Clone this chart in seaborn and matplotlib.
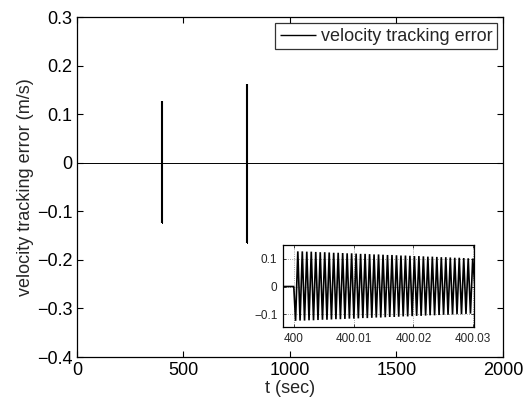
import numpy as np
import pandas as pd
import matplotlib
matplotlib.use("Agg")
import matplotlib.pyplot as plt
import seaborn as sns

# ---- data ----
# oscillation that starts at t = 400 s (alternating lower / upper extrema)
osc_start = 400.0
osc_half_period = 0.000375   # s, between a trough and the next crest
osc_lower = [-0.124, -0.123, -0.123, -0.122, -0.122, -0.121, -0.120, -0.120, -0.119, -0.118,
             -0.118, -0.117, -0.116, -0.116, -0.115, -0.114, -0.114, -0.113, -0.112, -0.112,
             -0.111, -0.110, -0.110, -0.109, -0.108, -0.108, -0.107, -0.106, -0.106, -0.105,
             -0.104, -0.104, -0.103, -0.102, -0.102, -0.101, -0.100, -0.100, -0.099, -0.098]
osc_upper = [0.127, 0.127, 0.126, 0.126, 0.125, 0.124, 0.124, 0.123, 0.122, 0.122,
             0.121, 0.120, 0.120, 0.119, 0.118, 0.118, 0.117, 0.116, 0.116, 0.115,
             0.114, 0.114, 0.113, 0.112, 0.112, 0.111, 0.110, 0.110, 0.109, 0.108,
             0.108, 0.107, 0.106, 0.106, 0.105, 0.104, 0.104, 0.103, 0.102, 0.101]
# second disturbance at t = 800 s
burst2_start = 800.0
burst2_lower = [-0.165, -0.160, -0.150]
burst2_upper = [0.163, 0.158, 0.148]
t_end = 2000.0

series_label = "velocity tracking error"
x_ticks = [0, 500, 1000, 1500, 2000]
y_ticks = [-0.4, -0.3, -0.2, -0.1, 0, 0.1, 0.2, 0.3]
inset_x_ticks = [400, 400.01, 400.02, 400.03]
inset_y_ticks = [-0.1, 0, 0.1]


def burst(t0, lower, upper, hp):
    ts, vs = [t0], [0.0]
    for k, (lo, up) in enumerate(zip(lower, upper)):
        ts += [t0 + hp * (2 * k + 0.8), t0 + hp * (2 * k + 1.8)]
        vs += [lo, up]
    ts.append(ts[-1] + hp)
    vs.append(0.0)
    return ts, vs


# full-resolution signal (used by the zoomed inset)
t1, v1 = burst(osc_start, osc_lower, osc_upper, osc_half_period)
t2, v2 = burst(burst2_start, burst2_lower, burst2_upper, osc_half_period)
df = pd.DataFrame({"t": [0.0] + t1 + t2 + [t_end],
                   "err": [0.0] + v1 + v2 + [0.0]})

# on the 0..2000 s scale each burst is narrower than a pixel: show its envelope
bursts = [(osc_start, min(osc_lower), max(osc_upper)),
          (burst2_start, min(burst2_lower), max(burst2_upper))]
tm, vm = [0.0], [0.0]
for t0, lo, up in bursts:
    tm += [t0, t0, t0, t0]
    vm += [0.0, lo, up, 0.0]
tm.append(t_end)
vm.append(0.0)
df_main = pd.DataFrame({"t": tm, "err": vm})

# ---- style ----
sns.set_style("ticks")
plt.rcParams["font.family"] = ["Liberation Sans", "DejaVu Sans"]
plt.rcParams["xtick.direction"] = "in"
plt.rcParams["ytick.direction"] = "in"

fig = plt.figure(figsize=(5.30, 4.01), dpi=100)
ax = fig.add_axes([0.1453, 0.1097, 0.8037, 0.8479])
sns.lineplot(data=df_main, x="t", y="err", ax=ax, color="black", linewidth=0.7,
             label=series_label, sort=False, estimator=None,
             solid_capstyle="butt")
ax.vlines([b[0] for b in bursts], [b[1] for b in bursts], [b[2] for b in bursts],
          color="black", linewidth=1.5)
ax.set_xlim(0, 2000)
ax.set_ylim(-0.4, 0.3)
ax.set_xticks(x_ticks)
ax.set_yticks(y_ticks)
ax.set_yticklabels([("%g" % v).replace("-", "\u2212") for v in y_ticks])
ax.tick_params(labelsize=13, top=True, right=True, length=4, width=0.8, colors="black")
ax.set_xlabel("t (sec)", fontsize=13, labelpad=1)
ax.set_ylabel("velocity tracking error (m/s)", fontsize=13, labelpad=2)
for s in ax.spines.values():
    s.set_visible(True)
    s.set_color("black")
    s.set_linewidth(0.9)
leg = ax.legend(loc="upper right", fontsize=13, frameon=True, fancybox=False,
                borderaxespad=0.35, handlelength=2.0, handletextpad=0.25,
                borderpad=0.25)
leg.get_frame().set_edgecolor("black")
leg.get_frame().set_linewidth(0.9)
for h in leg.get_lines():
    h.set_linewidth(1.0)

# ---- inset ----
axi = fig.add_axes([0.534, 0.184, 0.361, 0.205])
sns.lineplot(data=df, x="t", y="err", ax=axi, color="black", linewidth=1.2,
             sort=False, estimator=None, legend=False,
             solid_joinstyle="bevel")
axi.set_xlim(399.9982, 400.0302)
axi.set_ylim(-0.147, 0.15)
axi.set_xticks(inset_x_ticks)
axi.set_xticklabels(["%g" % v for v in inset_x_ticks])
axi.set_yticks(inset_y_ticks)
axi.set_yticklabels([("%g" % v).replace("-", "\u2212") for v in inset_y_ticks])
axi.tick_params(labelsize=8.5, top=True, right=True, length=2.5, width=0.6, pad=4)
axi.set_xlabel("")
axi.set_ylabel("")
axi.grid(True, linestyle=":", color="#888888", linewidth=0.6)
for s in axi.spines.values():
    s.set_visible(True)
    s.set_color("black")
    s.set_linewidth(0.9)

fig.savefig("out.png", dpi=100)
